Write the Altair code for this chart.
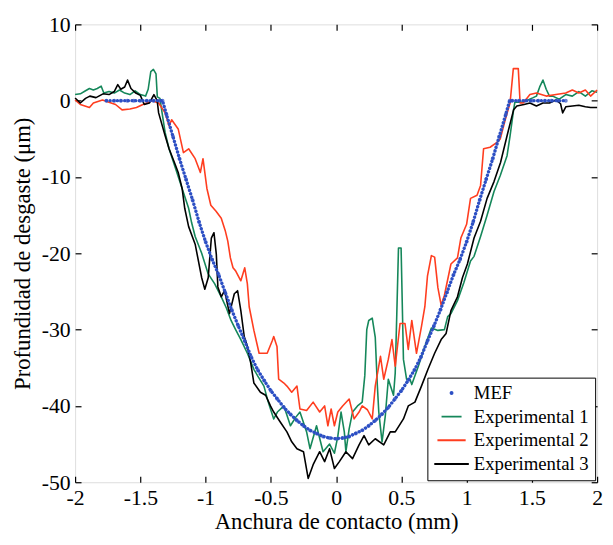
import altair as alt
import pandas as pd

SERIES = ["MEF", "Experimental 1", "Experimental 2", "Experimental 3"]
COLORS = ["#2c4fc4", "#15875a", "#ff3d1f", "#000000"]

# MEF (finite element) profile
mef_x = [-1.76, -1.70, -1.65, -1.60, -1.55, -1.50, -1.45, -1.40, -1.35, -1.33, -1.30, -1.25, -1.20,
         -1.15, -1.10, -1.05, -1.00, -0.95, -0.90, -0.85, -0.80, -0.75, -0.70, -0.65, -0.60,
         -0.55, -0.50, -0.45, -0.40, -0.35, -0.30, -0.25, -0.20, -0.15, -0.10, -0.05, 0.00,
         0.05, 0.10, 0.15, 0.20, 0.25, 0.30, 0.35, 0.40, 0.45, 0.50, 0.55, 0.60, 0.65, 0.70,
         0.75, 0.80, 0.85, 0.90, 0.95, 1.00, 1.05, 1.10, 1.15, 1.20, 1.25, 1.30, 1.33, 1.35,
         1.40, 1.45, 1.50, 1.55, 1.60, 1.65, 1.70, 1.76]
mef_y = [0, 0, 0, 0, 0, 0, 0, 0, 0, 0, -1.8, -4.7, -7.6,
         -10.3, -13.0, -15.9, -18.5, -20.8, -22.8, -25.1, -27.4, -29.5, -31.5, -33.6, -35.3,
         -36.7, -38.0, -39.1, -40.2, -41.1, -41.9, -42.6, -43.2, -43.6, -44.0, -44.2, -44.3,
         -44.2, -44.0, -43.6, -43.2, -42.6, -41.9, -41.1, -40.2, -39.1, -38.0, -36.7, -35.3, -33.6, -31.5,
         -29.5, -27.4, -25.1, -22.8, -20.8, -18.5, -15.9, -13.0, -10.3, -7.6, -4.7, -1.8, 0, 0,
         0, 0, 0, 0, 0, 0, 0, 0]

# Experimental 1 (green)
e1_x = [-2.00, -1.96, -1.92, -1.89, -1.86, -1.83, -1.80, -1.78, -1.74, -1.70, -1.66, -1.62, -1.58,
        -1.54, -1.50, -1.46, -1.44, -1.42, -1.40, -1.38, -1.37, -1.35, -1.33, -1.31, -1.28, -1.23,
        -1.18, -1.13, -1.107, -1.08, -1.03, -0.98, -0.93, -0.88, -0.84, -0.805, -0.77, -0.73, -0.68,
        -0.63, -0.60, -0.553, -0.52, -0.478, -0.45, -0.40, -0.35, -0.31, -0.277, -0.226, -0.20,
        -0.15, -0.10, -0.05, -0.013, 0.013, 0.038, 0.063, 0.075, 0.10, 0.126, 0.164, 0.20, 0.22,
        0.235, 0.25, 0.277, 0.30, 0.315, 0.327, 0.352, 0.377, 0.40, 0.44, 0.453, 0.465, 0.478,
        0.498, 0.516, 0.54, 0.566, 0.58, 0.63, 0.68, 0.73, 0.78, 0.83, 0.855, 0.88, 0.93, 0.98,
        1.03, 1.057, 1.107, 1.157, 1.21, 1.258, 1.31, 1.333, 1.36, 1.37, 1.42, 1.47, 1.51, 1.535,
        1.56, 1.585, 1.61, 1.635, 1.66, 1.71, 1.76, 1.81, 1.86, 1.91, 1.96, 2.00]
e1_y = [0.8, 0.9, 1.3, 1.6, 1.4, 1.6, 1.9, 1.0, 1.2, 1.0, 1.4, 1.0, 0.8,
        1.3, 0.8, 0.6, 1.5, 3.8, 4.1, 3.5, 0.5, 0.3, -2.0, -4.2, -6.3, -8.9,
        -11.5, -14.1, -16.0, -17.8, -20.0, -22.7, -24.0, -25.7, -27.2, -28.8, -30.0, -31.3, -33.1,
        -35.2, -36.1, -37.4, -39.5, -41.7, -40.8, -40.0, -42.6, -41.5, -40.8, -43.4, -45.6,
        -42.6, -46.0, -45.0, -46.2, -44.0, -40.8, -43.4, -46.0, -43.0, -40.8, -40.0, -39.5, -36.0,
        -30.0, -28.8, -28.5, -31.0, -37.0, -40.8, -44.7, -41.3, -36.5, -38.6, -35.7, -28.0, -19.3,
        -19.3, -33.9, -36.5, -36.5, -37.2, -34.8, -32.2, -29.8, -30.1, -30.0, -28.3, -27.9, -26.2, -23.8,
        -21.0, -20.4, -17.8, -15.0, -11.9, -9.8, -7.2, -4.6, -1.2, -0.2, -0.2, 0.1, 0.4, 0.6,
        1.8, 2.7, 1.5, 0.6, 0.6, 0.2, 0.8, 0.6, 1.2, 0.6, 1.3, 1.1]

# Experimental 2 (red)
e2_x = [-2.00, -1.96, -1.89, -1.86, -1.79, -1.74, -1.69, -1.64, -1.58, -1.53, -1.48, -1.41, -1.36,
        -1.31, -1.28, -1.26, -1.21, -1.17, -1.13, -1.08, -1.04, -1.02, -0.99, -0.96, -0.92, -0.88,
        -0.85, -0.83, -0.81, -0.79, -0.77, -0.73, -0.70, -0.68, -0.666, -0.63, -0.59, -0.528, -0.49,
        -0.478, -0.453, -0.44, -0.40, -0.377, -0.34, -0.30, -0.277, -0.226, -0.176, -0.126, -0.088,
        -0.063, -0.038, -0.013, 0.013, 0.05, 0.10, 0.138, 0.176, 0.20, 0.24, 0.277, 0.30, 0.34,
        0.365, 0.40, 0.428, 0.453, 0.49, 0.528, 0.553, 0.58, 0.616, 0.654, 0.68, 0.70, 0.73, 0.755,
        0.78, 0.805, 0.83, 0.88, 0.93, 0.956, 1.00, 1.03, 1.08, 1.107, 1.13, 1.18, 1.23, 1.258,
        1.296, 1.333, 1.358, 1.396, 1.41, 1.434, 1.485, 1.535, 1.61, 1.685, 1.76, 1.81, 1.86, 1.91,
        1.95, 2.00]
e2_y = [0.1, -0.5, -0.9, -0.3, 0.1, -0.2, -0.5, -1.2, -1.1, -0.9, -0.5, 0.0, -0.3,
        -1.6, -3.3, -2.5, -3.7, -6.8, -6.3, -7.6, -9.4, -7.6, -11.5, -13.7, -14.5, -15.4,
        -17.0, -18.4, -20.6, -21.9, -22.3, -23.6, -21.9, -24.0, -27.0, -30.1, -33.1, -33.1, -31.5,
        -30.9, -32.2, -36.5, -37.0, -37.4, -38.2, -37.4, -40.4, -40.6, -39.5, -40.8, -40.0,
        -42.6, -40.4, -42.6, -40.8, -40.0, -39.1, -41.7, -40.8, -40.0, -40.5, -41.7, -37.4, -33.5,
        -36.5, -33.9, -31.3, -34.8, -29.2, -29.2, -32.6, -28.8, -33.1, -29.6, -27.0, -23.0, -20.3, -20.5,
        -24.5, -26.8, -25.5, -21.4, -20.6, -18.0, -16.2, -12.8, -12.4, -11.1, -6.3, -6.1, -5.5, -5.0,
        -2.5, -0.3, 4.2, 4.2, -0.3, -0.3, 0.8, 1.0, 0.6, 0.8, 1.0, 1.4, 1.0, 1.4,
        0.6, 1.4]

# Experimental 3 (black)
e3_x = [-2.00, -1.96, -1.92, -1.887, -1.84, -1.786, -1.74, -1.70, -1.673, -1.65, -1.62, -1.598,
        -1.572, -1.535, -1.50, -1.47, -1.43, -1.396, -1.371, -1.36, -1.31, -1.28, -1.23, -1.21,
        -1.18, -1.16, -1.13, -1.08, -1.03, -1.006, -0.98, -0.956, -0.936, -0.918, -0.906, -0.88,
        -0.855, -0.817, -0.78, -0.755, -0.73, -0.704, -0.68, -0.654, -0.63, -0.58, -0.54, -0.503,
        -0.478, -0.428, -0.377, -0.34, -0.30, -0.25, -0.214, -0.176, -0.126, -0.088, -0.05, -0.013,
        0.025, 0.075, 0.126, 0.176, 0.214, 0.25, 0.30, 0.365, 0.415, 0.453, 0.516, 0.553, 0.604,
        0.654, 0.704, 0.755, 0.805, 0.843, 0.88, 0.93, 0.968, 1.006, 1.057, 1.107, 1.157, 1.21,
        1.26, 1.31, 1.36, 1.385, 1.44, 1.485, 1.535, 1.585, 1.635, 1.685, 1.72, 1.736, 1.76, 1.81,
        1.86, 1.91, 1.95, 2.00]
e3_y = [0.35, -0.3, 0.3, 0.6, 0.4, 0.9, 0.8, 1.2, 2.1, 1.5, 1.8, 2.7,
        1.6, 1.0, 0.7, -0.5, -0.3, 0.8, 0.0, -1.6, -4.6, -6.3, -8.5, -9.4,
        -11.5, -14.1, -16.5, -18.8, -23.2, -24.7, -23.2, -18.0, -17.3, -20.1, -24.4, -25.7,
        -24.9, -27.9, -25.3, -24.9, -27.5, -30.9, -32.2, -34.4, -37.0, -38.2, -38.6, -40.0,
        -40.8, -42.1, -43.4, -44.7, -45.6, -46.0, -49.5, -47.7, -46.0, -47.3, -45.6, -48.2,
        -47.3, -46.0, -46.9, -45.1, -43.9, -45.1, -44.3, -45.1, -43.4, -43.4, -41.7, -40.0, -39.5,
        -37.4, -35.2, -33.1, -31.3, -30.5, -27.5, -25.7, -23.2, -21.4, -18.0, -15.8, -12.8, -10.6,
        -8.1, -4.6, -1.2, -0.7, -0.5, -0.3, -0.7, -0.3, -0.3, 0.1, -0.4, -1.6, -0.8, -0.7,
        -0.6, -0.8, -0.9, -0.9]

x_ticks = [-2, -1.5, -1, -0.5, 0, 0.5, 1, 1.5, 2]
y_ticks = [-50, -40, -30, -20, -10, 0, 10]

FONT = "Liberation Serif"

mef_df = pd.DataFrame({"x": mef_x, "y": mef_y, "series": "MEF"})
mef_df["idx"] = range(len(mef_df))
exp_frames = []
for name, xs, ys in [("Experimental 1", e1_x, e1_y),
                     ("Experimental 2", e2_x, e2_y),
                     ("Experimental 3", e3_x, e3_y)]:
    d = pd.DataFrame({"x": xs, "y": ys, "series": name})
    d["idx"] = range(len(d))
    exp_frames.append(d)
exp_df = pd.concat(exp_frames, ignore_index=True)

xscale = alt.Scale(domain=[-2, 2], nice=False, zero=False)
yscale = alt.Scale(domain=[-50, 10], nice=False, zero=False)

tick_style = dict(tickSize=6, offset=-6, domain=False, grid=False,
                  tickColor="#000000", tickWidth=1.2)
axis_common = dict(labelFont=FONT, labelFontSize=22, labelColor="black",
                   titleFont=FONT, titleFontSize=23, titleColor="black", titleFontWeight="normal",
                   labelExpr="datum.value + ''", labelFlush=False, **tick_style)

x_bottom = alt.Axis(orient="bottom", values=x_ticks, title="Anchura de contacto (mm)",
                    labelPadding=6, titlePadding=2, **axis_common)
y_left = alt.Axis(orient="left", values=y_ticks, title="Profundidad de desgaste (μm)",
                  labelPadding=5, titlePadding=7, **axis_common)
x_top = alt.Axis(orient="top", values=x_ticks, labels=False, title=None, **tick_style)
y_right = alt.Axis(orient="right", values=y_ticks, labels=False, title=None, **tick_style)

color_scale = alt.Scale(domain=SERIES, range=COLORS)
legend = alt.Legend(orient="none", legendX=357, legendY=358, title=None,
                    strokeColor="black", fillColor="white", padding=6, rowPadding=4,
                    clipHeight=19, labelFont=FONT, labelFontSize=19, labelColor="black",
                    labelOffset=4, symbolStrokeWidth=2, symbolOpacity=1, labelLimit=300)

# MEF markers (carry the legend: dot for MEF, strokes for the experiments)
mef_pts = alt.Chart(mef_df).mark_point(filled=False, strokeWidth=2).encode(
    x=alt.X("x:Q", scale=xscale, axis=x_bottom),
    y=alt.Y("y:Q", scale=yscale, axis=y_left),
    color=alt.Color("series:N", scale=color_scale, legend=legend),
    shape=alt.Shape("series:N", scale=alt.Scale(domain=SERIES, range=["circle", "stroke", "stroke", "stroke"]), legend=legend),
    size=alt.Size("series:N", scale=alt.Scale(domain=SERIES, range=[4, 1225, 1225, 1225]), legend=legend),
)

# MEF dotted curve
mef_line = alt.Chart(mef_df).mark_line(strokeDash=[0.1, 3.6], strokeCap="round", strokeWidth=3.4,
                                       color=COLORS[0]).encode(
    x=alt.X("x:Q", scale=xscale, axis=x_top),
    y=alt.Y("y:Q", scale=yscale, axis=y_right),
    order="idx:Q",
)

exp_lines = alt.Chart(exp_df).mark_line(strokeJoin="round").encode(
    x=alt.X("x:Q", scale=xscale, axis=None),
    y=alt.Y("y:Q", scale=yscale, axis=None),
    color=alt.Color("series:N", scale=color_scale, legend=legend),
    strokeWidth=alt.StrokeWidth("series:N", scale=alt.Scale(domain=SERIES[1:], range=[1.6, 1.6, 2.2]), legend=None),
    order="idx:Q",
    detail="series:N",
)

chart = alt.layer(exp_lines, mef_line, mef_pts).properties(
    width=529, height=464,
    autosize=alt.AutoSizeParams(type="none"),
    padding={"left": 68, "top": 13, "right": 8, "bottom": 60},
).configure_view(stroke="black", strokeWidth=1.2).configure(background="white")

chart.save("out.html", embed_options={"renderer": "svg", "actions": False})
